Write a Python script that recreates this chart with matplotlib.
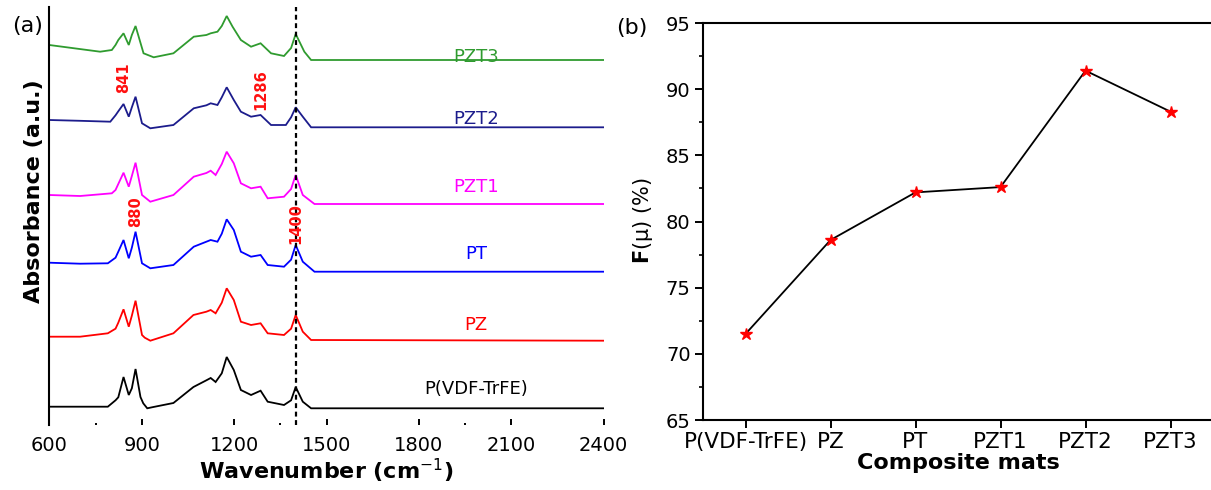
import matplotlib
matplotlib.use("Agg")
import matplotlib.pyplot as plt
from matplotlib.ticker import MultipleLocator, FixedLocator

plt.rcParams['font.family'] = ['DejaVu Sans']
plt.rcParams['mathtext.fontset'] = 'dejavusans'

# ---------------- FTIR spectra (absorbance above each flat baseline, a.u.) ----------------
wn_pvdf = [600, 700, 790, 815, 824, 841, 858, 868, 880, 896, 905, 918, 938, 1003, 1068,
           1110, 1124, 1140, 1160, 1176, 1199, 1222, 1255, 1286, 1309, 1362, 1385, 1400,
           1423, 1450, 2400]
ab_pvdf = [1.6, 1.6, 1.6, 8, 11, 31.3, 13.3, 20, 39.3, 11.3, 5, 0, 1.3, 5.3, 21.3,
           28, 30.3, 26.3, 35, 51.3, 38.3, 18.3, 13.3, 17.6, 6.6, 3.3, 8, 21.3,
           6.6, 0, 0]

wn_pz = [600, 700, 790, 815, 824, 841, 858, 868, 880, 901, 910, 928, 1003, 1068,
         1110, 1124, 1140, 1160, 1176, 1199, 1222, 1255, 1286, 1309, 1362, 1385, 1400,
         1423, 1450, 2400]
ab_pz = [4, 4, 7.4, 12, 18, 31.4, 14, 25, 40, 5.7, 3, 0, 7.4, 25.7,
         29, 30.7, 27.4, 38, 52.4, 40.7, 19, 15.7, 17.4, 7.4, 5.7, 12, 25.7,
         9, 0.7, 0]

wn_pt = [600, 700, 790, 815, 824, 841, 858, 868, 880, 901, 928, 1003, 1069,
         1110, 1124, 1146, 1160, 1176, 1199, 1222, 1255, 1286, 1309, 1362, 1385, 1400,
         1423, 1461, 2400]
ab_pt = [9, 8, 8.4, 14, 20, 31.7, 13.4, 24, 40, 8.4, 3.4, 6.7, 25,
         30, 31.7, 30, 38, 52.4, 41.7, 20, 15, 16.7, 6.7, 5, 12, 26.7,
         10, 0, 0]

wn_pzt1 = [600, 700, 803, 815, 824, 841, 858, 868, 880, 901, 928, 1003, 1069,
           1110, 1124, 1140, 1160, 1176, 1199, 1222, 1255, 1286, 1309, 1362, 1385, 1400,
           1423, 1461, 2400]
ab_pzt1 = [9, 8, 10.7, 14, 20, 31.3, 17.3, 28, 41.3, 9, 2.3, 9, 27.3,
           31, 33.3, 29, 40, 52.3, 40.7, 20.7, 15.7, 17.3, 5.7, 7.3, 15, 29,
           9, 0, 0]

wn_pzt2 = [600, 700, 798, 815, 824, 841, 858, 868, 880, 901, 928, 1003, 1069,
           1110, 1124, 1146, 1160, 1176, 1199, 1222, 1255, 1286, 1320, 1368, 1385, 1400,
           1423, 1450, 2400]
ab_pzt2 = [7.3, 6.5, 5.6, 12, 16, 23.3, 10.6, 20, 30.6, 4, -1, 2.3, 19,
           22, 24, 22.3, 30, 40, 27.3, 15.6, 10.6, 12.3, 2.3, 2.3, 10, 20,
           10.6, 0, 0]

wn_pzt3 = [600, 765, 803, 815, 824, 841, 858, 868, 880, 906, 939, 1003, 1069,
           1110, 1124, 1146, 1160, 1176, 1195, 1222, 1255, 1286, 1320, 1362, 1385, 1400,
           1428, 1450, 2400]
ab_pzt3 = [15, 8.3, 10, 15, 20, 26.7, 15, 25, 34, 6.7, 2.7, 6.7, 23.3,
           25, 26.7, 28.3, 34, 44, 33.3, 20, 13.3, 16.7, 6.7, 4, 12, 26,
           8.3, 0, 0]

trace_names = ["P(VDF-TrFE)", "PZ", "PT", "PZT1", "PZT2", "PZT3"]
trace_offsets = [16.7, 84.3, 153.3, 221.0, 297.7, 365.0]

peak_texts = ["841", "880", "1286", "1400"]
peak_wavenumbers = [841, 880, 1286, 1400]
marker_line_wn = 1400

# ---------------- F(beta) fraction of the composite mats ----------------
mats = ["P(VDF-TrFE)", "PZ", "PT", "PZT1", "PZT2", "PZT3"]
f_values = [71.5, 78.6, 82.2, 82.6, 91.4, 88.3]

# ---------------- figure ----------------
W, H = 1211, 490
fig = plt.figure(figsize=(W / 100, H / 100), dpi=100)

def box(x0, y0, x1, y1):
    """pixel box (top-left origin) -> figure fraction rect"""
    return [x0 / W, 1 - y1 / H, (x1 - x0) / W, (y1 - y0) / H]

# ----- panel (a): stacked spectra -----
axa = fig.add_axes(box(49.3, 7, 603.7, 425))
colors = ["black", "#ff0000", "#0000ff", "#ff00ff", "#1c1c8c", "#2f9b2f"]
spectra = [(wn_pvdf, ab_pvdf), (wn_pz, ab_pz), (wn_pt, ab_pt),
           (wn_pzt1, ab_pzt1), (wn_pzt2, ab_pzt2), (wn_pzt3, ab_pzt3)]
label_gap = [19, 16, 18, 17, 8, 3]
for (wn, ab), off, col, name, gap in zip(spectra, trace_offsets, colors, trace_names, label_gap):
    axa.plot(wn, [v + off for v in ab], color=col, lw=1.3, solid_joinstyle='miter')
    axa.text(1985, off + gap, name, color=col, fontsize=13, ha='center', va='center')

axa.axvline(marker_line_wn, color='black', lw=1.6, ls=(0, (2.2, 1.6)))

peak_y = [347, 213, 335, 201]
for txt, wn, yy in zip(peak_texts, peak_wavenumbers, peak_y):
    axa.text(wn, yy, txt, color='#ff1010', fontsize=10.5, fontweight='bold',
             rotation=90, ha='center', va='center')

axa.set_xlim(600, 2400)
axa.set_ylim(0, 418)
for s in ['top', 'right', 'bottom']:
    axa.spines[s].set_visible(False)
axa.spines['left'].set_linewidth(1.5)
axa.set_yticks([])
axa.xaxis.set_major_locator(MultipleLocator(300))
axa.xaxis.set_minor_locator(FixedLocator([750, 1350, 1950]))
axa.tick_params(axis='x', which='major', direction='in', length=4.5, width=1.4,
                labelsize=14, pad=8)
axa.tick_params(axis='x', which='minor', direction='in', length=1.5, width=1.4)
axa.set_xlabel(r"Wavenumber (cm$^{-1}$)", fontsize=16, fontweight='bold', labelpad=1)
fig.text(34 / W, 1 - 191 / H, "Absorbance (a.u.)", rotation=90, fontsize=16,
         fontweight='bold', ha='center', va='center')
fig.text(28 / W, 1 - 26 / H, "(a)", fontsize=16, ha='center', va='center')

# ----- panel (b): F(beta) versus composite mat -----
axb = fig.add_axes(box(703, 23, 1213, 420))
x = list(range(len(mats)))
axb.plot(x, f_values, color='black', lw=1.3, marker='*', markersize=9,
         markerfacecolor='red', markeredgecolor='red', zorder=3)
axb.set_xlim(-0.5, 5.5)
axb.set_ylim(65, 95)
axb.set_xticks(x)
axb.set_xticklabels(mats)
axb.yaxis.set_major_locator(MultipleLocator(5))
axb.yaxis.set_minor_locator(MultipleLocator(2.5))
axb.spines['right'].set_visible(False)
for s in ['left', 'top', 'bottom']:
    axb.spines[s].set_linewidth(1.5)
axb.tick_params(axis='both', which='major', direction='out', length=5.5, width=1.4,
                labelsize=14)
axb.tick_params(axis='x', which='major', pad=3, labelsize=15.5)
axb.tick_params(axis='y', which='minor', direction='out', length=3, width=1.2)
axb.tick_params(axis='x', which='minor', bottom=False)
axb.set_xlabel("Composite mats", fontsize=16, fontweight='bold', labelpad=1)
fig.text(643 / W, 1 - 221 / H, r"$\mathbf{F}$(μ) (%)", rotation=90, fontsize=15,
         ha='center', va='center')
fig.text(632 / W, 1 - 28 / H, "(b)", fontsize=16, ha='center', va='center')

fig.savefig("out.png", dpi=100)
